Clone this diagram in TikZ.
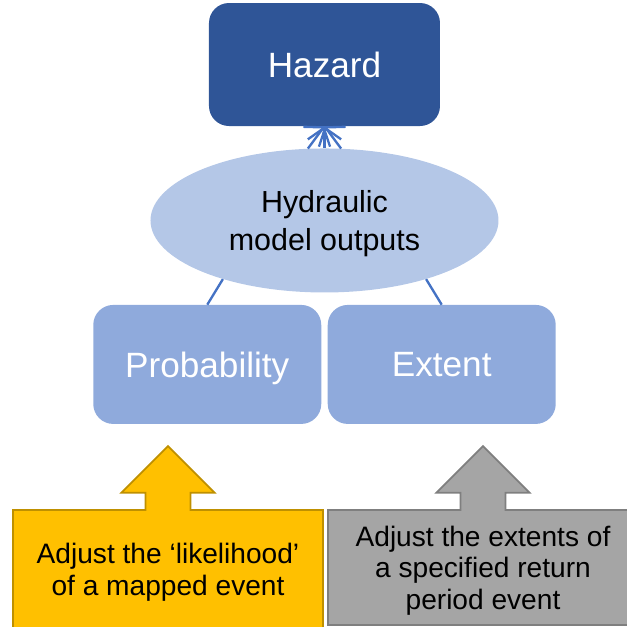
\documentclass[tikz,border=0pt]{standalone}
\usepackage{fontspec}
\setmainfont{Liberation Sans}
\usetikzlibrary{arrows.meta, positioning, shapes.geometric, shapes.arrows}
\definecolor{hzblue}{HTML}{2F5597}
\definecolor{hylight}{HTML}{B4C7E7}
\definecolor{boxblue}{HTML}{8FAADC}
\definecolor{linkblue}{HTML}{4472C4}
\definecolor{ambfill}{HTML}{FFC000}
\definecolor{ambline}{HTML}{BF9000}
\definecolor{greyfill}{HTML}{A5A5A5}
\definecolor{greyline}{HTML}{7F7F7F}

\begin{document}
\begin{tikzpicture}[
    blk/.style={rounded corners=0.6cm, text=white, text depth=0pt, minimum width=6.84cm, minimum height=3.57cm, font=\fontsize{30}{36}\selectfont},
    link/.style={draw=linkblue, line width=2pt},
    arr/.style={link, -{Straight Barb[length=3.5mm, width=10mm]}},
    note/.style={arrow box, arrow box arrows={north:1.89cm}, arrow box shaft width=1.35cm, arrow box head extend=0.72cm, minimum width=9.3cm, minimum height=3.45cm, line width=1.5pt, align=center, text depth=0pt, font=\fontsize{24}{27}\selectfont}
  ]
    \useasboundingbox (-9.735,1.935) rectangle (9.075,-16.845);
    \node[blk, fill=hzblue, minimum width=6.93cm, minimum height=3.69cm] (hazard) {Hazard};
    \node[ellipse, fill=hylight, minimum width=10.44cm, minimum height=4.32cm, below=0.66cm of hazard, align=center, text depth=0pt, font=\fontsize{26}{32}\selectfont] (hyd) {Hydraulic\\model outputs};
    \node[blk, fill=boxblue, below left=0.36cm and 0.09cm of hyd.south] (prob) {Probability};
    \node[blk, fill=boxblue, below right=0.36cm and 0.09cm of hyd.south] (ext) {Extent};

    \node[note, fill=ambfill, draw=ambline, minimum height=3.57cm] (likeli) at (-4.695,-15.15) {Adjust the `likelihood'\\of a mapped event};
    \node[note, fill=greyfill, draw=greyline] (extents) at (4.755,-15.09) {Adjust the extents of\\a specified return\\period event};

    \draw[link] (prob.north) -- (hyd.210);
    \draw[link] (ext.north) -- (hyd.330);
    \draw[arr] (hyd.103) -- (hazard.south);
    \draw[arr] (hyd.north) -- (hazard.south);
    \draw[arr] (hyd.77) -- (hazard.south);
  \end{tikzpicture}
\end{document}
